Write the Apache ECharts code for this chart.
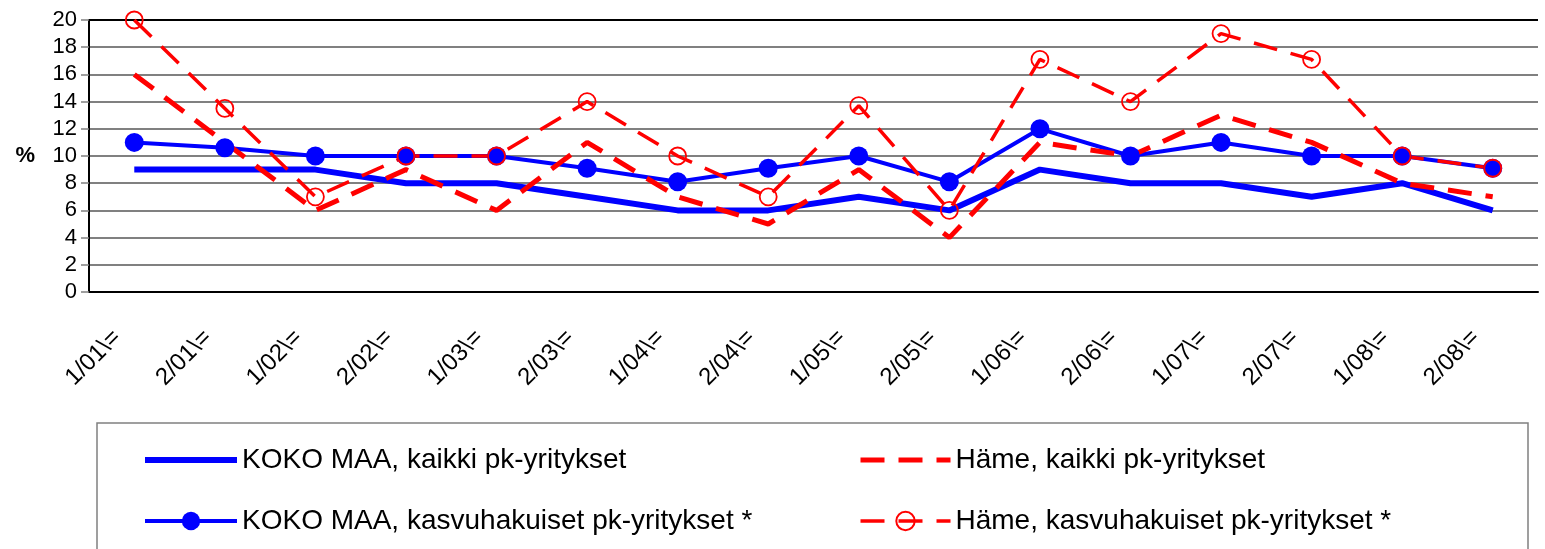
<!DOCTYPE html>
<html>
<head>
<meta charset="utf-8">
<script src="https://cdn.jsdelivr.net/npm/echarts@6/dist/echarts.min.js"></script>
<style>
  html, body {margin: 0; padding: 0; background: #fff;}
  #chart {width: 1545px; height: 549px;}
</style>
</head>
<body>
<div id="chart"></div>
<script>
const categories = ['1/01\\=', '2/01\\=', '1/02\\=', '2/02\\=', '1/03\\=', '2/03\\=', '1/04\\=', '2/04\\=',
  '1/05\\=', '2/05\\=', '1/06\\=', '2/06\\=', '1/07\\=', '2/07\\=', '1/08\\=', '2/08\\=']
const kokoKaikki = [9, 9, 9, 8, 8, 7, 6, 6, 7, 6, 9, 8, 8, 7, 8, 6]
const kokoKasvu = [11, 10.6, 10, 10, 10, 9.1, 8.1, 9.1, 10, 8.1, 12, 10, 11, 10, 10, 9.1]
const hameKaikki = [16, 11, 6, 9, 6, 11, 7, 5, 9, 4, 11, 10, 13, 11, 8, 7]
const hameKasvu = [20, 13.5, 7, 10, 10, 14, 10, 7, 13.7, 6, 17.1, 14, 19, 17.1, 10, 9.1]
const yTicks = [0, 20, 2]

const names = ['KOKO MAA, kaikki pk-yritykset', 'KOKO MAA, kasvuhakuiset pk-yritykset *',
  'Häme, kaikki pk-yritykset', 'Häme, kasvuhakuiset pk-yritykset *']

const font = '"Liberation Sans", Arial, sans-serif'
const myChart = echarts.init(document.getElementById('chart'))

// legend rows: line-only series hide the symbol in the icon
const noSymbol = {opacity: 0}

let option = {
  animation: false,
  textStyle: {fontFamily: font},
  grid: {left: 89, right: 7, top: 20, bottom: 257, containLabel: false},
  graphic: [{
    type: 'rect',
    shape: {x: 97, y: 423, width: 1431, height: 140},
    style: {fill: 'none', stroke: '#808080', lineWidth: 1.5},
    silent: true
  }],
  legend: [{
    orient: 'vertical',
    left: 142, top: 446,
    padding: 0,
    itemWidth: 92, itemHeight: 23, itemGap: 33,
    lineStyle: {width: 'inherit'},
    textStyle: {fontSize: 28, color: '#000', fontFamily: font},
    data: [{name: names[0], itemStyle: noSymbol}, {name: names[1]}]
  }, {
    orient: 'vertical',
    left: 858, top: 446,
    padding: 0,
    itemWidth: 90, itemHeight: 23, itemGap: 33,
    lineStyle: {width: 'inherit'},
    textStyle: {fontSize: 28, color: '#000', fontFamily: font},
    data: [{name: names[2], itemStyle: noSymbol}, {name: names[3]}]
  }],
  xAxis: {
    type: 'category',
    data: categories,
    axisLine: {lineStyle: {color: '#000', width: 2}},
    axisTick: {show: false},
    axisLabel: {rotate: 45, interval: 0, margin: 25, padding: [0, 24, 0, 0], fontSize: 24, color: '#000', fontFamily: font}
  },
  yAxis: {
    type: 'value',
    min: yTicks[0], max: yTicks[1], interval: yTicks[2],
    name: '%',
    nameLocation: 'middle',
    nameRotate: 0,
    nameGap: 54,
    nameTextStyle: {fontSize: 22, fontWeight: 'bold', color: '#000', fontFamily: font},
    axisLine: {show: true, lineStyle: {color: '#000', width: 2}},
    axisTick: {show: true, length: 8, lineStyle: {color: '#808080', width: 1.5}},
    axisLabel: {fontSize: 22, color: '#000', margin: 12, fontFamily: font},
    splitLine: {
      lineStyle: {
        color: ['#000', '#808080', '#808080', '#808080', '#808080', '#808080',
          '#808080', '#808080', '#808080', '#808080', '#000'],
        width: 2
      }
    }
  },
  series: [
    {
      name: names[0],
      type: 'line',
      data: kokoKaikki,
      symbol: 'none',
      color: '#0000ff',
      lineStyle: {color: '#0000ff', width: 6}
    },
    {
      name: names[1],
      type: 'line',
      data: kokoKasvu,
      symbol: 'circle',
      symbolSize: 19,
      color: '#0000ff',
      itemStyle: {color: '#0000ff'},
      lineStyle: {color: '#0000ff', width: 4}
    },
    {
      name: names[2],
      type: 'line',
      data: hameKaikki,
      symbol: 'none',
      color: '#ff0000',
      lineStyle: {color: '#ff0000', width: 5, type: [24, 14]}
    },
    {
      name: names[3],
      type: 'line',
      data: hameKasvu,
      symbol: 'circle',
      symbolSize: 17,
      color: '#ff0000',
      itemStyle: {color: 'rgba(0,0,0,0)', borderColor: '#ff0000', borderWidth: 1.8},
      lineStyle: {color: '#ff0000', width: 3.5, type: [24, 14]}
    }
  ]
}
myChart.setOption(option)
</script>
</body>
</html>
